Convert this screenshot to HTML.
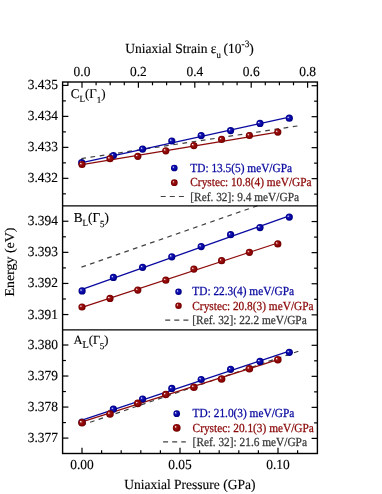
<!DOCTYPE html>
<html><head><meta charset="utf-8"><title>Chart</title>
<style>html,body{margin:0;padding:0;background:#fff;}body{width:382px;height:494px;overflow:hidden;position:relative;font-family:"Liberation Serif",serif;}</style>
</head><body>
<svg width="382" height="494" viewBox="0 0 382 494" style="position:absolute;left:0;top:0">
<defs>
<radialGradient id="gb" cx="0.5" cy="0.5" r="0.5" fx="0.31" fy="0.35">
<stop offset="0" stop-color="#ffffff"/><stop offset="0.1" stop-color="#c0c0f8"/><stop offset="0.3" stop-color="#1c1cb0"/><stop offset="0.75" stop-color="#0000a0"/><stop offset="1" stop-color="#00007a"/>
</radialGradient>
<radialGradient id="gr" cx="0.5" cy="0.5" r="0.5" fx="0.31" fy="0.35">
<stop offset="0" stop-color="#ffffff"/><stop offset="0.1" stop-color="#f0c0c0"/><stop offset="0.3" stop-color="#9a1818"/><stop offset="0.75" stop-color="#8a0000"/><stop offset="1" stop-color="#6a0000"/>
</radialGradient>
</defs>
<rect x="0" y="0" width="382" height="494" fill="#fff"/>
<line x1="81.3" y1="158.6" x2="298.0" y2="125.9" stroke="#404040" stroke-width="1.2" stroke-dasharray="4.7 4.6"/>
<line x1="82.0" y1="162.6" x2="289.3" y2="117.2" stroke="#0a0aa0" stroke-width="1.3"/>
<line x1="82.0" y1="164.7" x2="277.8" y2="132.2" stroke="#8c0a0a" stroke-width="1.3"/>
<circle cx="81.7" cy="162.7" r="3.6" fill="url(#gb)"/>
<circle cx="113.4" cy="155.5" r="3.6" fill="url(#gb)"/>
<circle cx="142.6" cy="149.1" r="3.6" fill="url(#gb)"/>
<circle cx="171.8" cy="141.0" r="3.6" fill="url(#gb)"/>
<circle cx="201.2" cy="135.6" r="3.6" fill="url(#gb)"/>
<circle cx="230.6" cy="130.6" r="3.6" fill="url(#gb)"/>
<circle cx="260.0" cy="123.4" r="3.6" fill="url(#gb)"/>
<circle cx="289.3" cy="118.2" r="3.6" fill="url(#gb)"/>
<circle cx="82.0" cy="164.5" r="3.6" fill="url(#gr)"/>
<circle cx="110.0" cy="158.7" r="3.6" fill="url(#gr)"/>
<circle cx="137.8" cy="156.3" r="3.6" fill="url(#gr)"/>
<circle cx="165.8" cy="150.8" r="3.6" fill="url(#gr)"/>
<circle cx="193.9" cy="145.6" r="3.6" fill="url(#gr)"/>
<circle cx="221.6" cy="139.4" r="3.6" fill="url(#gr)"/>
<circle cx="249.4" cy="135.5" r="3.6" fill="url(#gr)"/>
<circle cx="277.8" cy="132.1" r="3.6" fill="url(#gr)"/>
<line x1="81.45" y1="267.15" x2="258.4" y2="205.4" stroke="#404040" stroke-width="1.2" stroke-dasharray="4.7 4.39"/>
<line x1="82.0" y1="289.3" x2="289.3" y2="215.9" stroke="#0a0aa0" stroke-width="1.3"/>
<line x1="82.0" y1="307.4" x2="277.8" y2="243.0" stroke="#8c0a0a" stroke-width="1.3"/>
<circle cx="82.1" cy="290.9" r="3.6" fill="url(#gb)"/>
<circle cx="113.4" cy="277.4" r="3.6" fill="url(#gb)"/>
<circle cx="142.6" cy="267.3" r="3.6" fill="url(#gb)"/>
<circle cx="171.8" cy="256.8" r="3.6" fill="url(#gb)"/>
<circle cx="201.2" cy="246.6" r="3.6" fill="url(#gb)"/>
<circle cx="230.6" cy="234.7" r="3.6" fill="url(#gb)"/>
<circle cx="260.0" cy="227.6" r="3.6" fill="url(#gb)"/>
<circle cx="289.3" cy="217.1" r="3.6" fill="url(#gb)"/>
<circle cx="82.0" cy="307.0" r="3.6" fill="url(#gr)"/>
<circle cx="110.0" cy="298.4" r="3.6" fill="url(#gr)"/>
<circle cx="137.8" cy="290.1" r="3.6" fill="url(#gr)"/>
<circle cx="165.8" cy="280.2" r="3.6" fill="url(#gr)"/>
<circle cx="193.9" cy="269.1" r="3.6" fill="url(#gr)"/>
<circle cx="221.6" cy="260.7" r="3.6" fill="url(#gr)"/>
<circle cx="249.4" cy="252.3" r="3.6" fill="url(#gr)"/>
<circle cx="277.8" cy="243.9" r="3.6" fill="url(#gr)"/>
<line x1="81.6" y1="425.2" x2="298.4" y2="351.2" stroke="#404040" stroke-width="1.2" stroke-dasharray="4.7 4.275"/>
<line x1="82.0" y1="420.1" x2="289.3" y2="351.2" stroke="#0a0aa0" stroke-width="1.3"/>
<line x1="82.0" y1="421.9" x2="277.8" y2="359.6" stroke="#8c0a0a" stroke-width="1.3"/>
<circle cx="82.0" cy="422.2" r="3.6" fill="url(#gb)"/>
<circle cx="113.4" cy="409.2" r="3.6" fill="url(#gb)"/>
<circle cx="142.6" cy="399.0" r="3.6" fill="url(#gb)"/>
<circle cx="171.8" cy="388.4" r="3.6" fill="url(#gb)"/>
<circle cx="201.2" cy="379.5" r="3.6" fill="url(#gb)"/>
<circle cx="230.6" cy="369.3" r="3.6" fill="url(#gb)"/>
<circle cx="260.0" cy="361.4" r="3.6" fill="url(#gb)"/>
<circle cx="289.3" cy="352.3" r="3.6" fill="url(#gb)"/>
<circle cx="82.0" cy="422.7" r="3.8" fill="url(#gr)"/>
<circle cx="110.0" cy="414.0" r="3.8" fill="url(#gr)"/>
<circle cx="137.8" cy="403.4" r="3.8" fill="url(#gr)"/>
<circle cx="165.8" cy="394.5" r="3.8" fill="url(#gr)"/>
<circle cx="193.9" cy="387.2" r="3.8" fill="url(#gr)"/>
<circle cx="221.6" cy="379.0" r="3.8" fill="url(#gr)"/>
<circle cx="249.4" cy="368.8" r="3.8" fill="url(#gr)"/>
<circle cx="277.8" cy="359.7" r="3.8" fill="url(#gr)"/>
<g stroke="#000" stroke-width="1.2" fill="none" stroke-linecap="butt">
<rect x="62.6" y="82.0" width="254.79999999999998" height="371.5" stroke-width="1.4"/>
<line x1="62.6" y1="205.9" x2="317.4" y2="205.9" stroke-width="1.4"/>
<line x1="62.6" y1="329.9" x2="317.4" y2="329.9" stroke-width="1.4"/>
<line x1="82.00" y1="453.5" x2="82.00" y2="447.7"/>
<line x1="101.60" y1="453.5" x2="101.60" y2="450.2"/>
<line x1="121.20" y1="453.5" x2="121.20" y2="450.2"/>
<line x1="140.80" y1="453.5" x2="140.80" y2="450.2"/>
<line x1="160.40" y1="453.5" x2="160.40" y2="450.2"/>
<line x1="180.00" y1="453.5" x2="180.00" y2="447.7"/>
<line x1="199.60" y1="453.5" x2="199.60" y2="450.2"/>
<line x1="219.20" y1="453.5" x2="219.20" y2="450.2"/>
<line x1="238.80" y1="453.5" x2="238.80" y2="450.2"/>
<line x1="258.40" y1="453.5" x2="258.40" y2="450.2"/>
<line x1="278.00" y1="453.5" x2="278.00" y2="447.7"/>
<line x1="297.60" y1="453.5" x2="297.60" y2="450.2"/>
<line x1="67.90" y1="82.0" x2="67.90" y2="85.3"/>
<line x1="82.00" y1="82.0" x2="82.00" y2="87.8"/>
<line x1="96.10" y1="82.0" x2="96.10" y2="85.3"/>
<line x1="110.20" y1="82.0" x2="110.20" y2="85.3"/>
<line x1="124.30" y1="82.0" x2="124.30" y2="85.3"/>
<line x1="138.40" y1="82.0" x2="138.40" y2="87.8"/>
<line x1="152.50" y1="82.0" x2="152.50" y2="85.3"/>
<line x1="166.60" y1="82.0" x2="166.60" y2="85.3"/>
<line x1="180.70" y1="82.0" x2="180.70" y2="85.3"/>
<line x1="194.80" y1="82.0" x2="194.80" y2="87.8"/>
<line x1="208.90" y1="82.0" x2="208.90" y2="85.3"/>
<line x1="223.00" y1="82.0" x2="223.00" y2="85.3"/>
<line x1="237.10" y1="82.0" x2="237.10" y2="85.3"/>
<line x1="251.20" y1="82.0" x2="251.20" y2="87.8"/>
<line x1="265.30" y1="82.0" x2="265.30" y2="85.3"/>
<line x1="279.40" y1="82.0" x2="279.40" y2="85.3"/>
<line x1="293.50" y1="82.0" x2="293.50" y2="85.3"/>
<line x1="307.60" y1="82.0" x2="307.60" y2="87.8"/>
<line x1="62.6" y1="85.40" x2="68.4" y2="85.40"/>
<line x1="317.4" y1="85.70" x2="311.59999999999997" y2="85.70"/>
<line x1="62.6" y1="100.89" x2="65.9" y2="100.89"/>
<line x1="317.4" y1="101.19" x2="314.09999999999997" y2="101.19"/>
<line x1="62.6" y1="116.38" x2="68.4" y2="116.38"/>
<line x1="317.4" y1="116.68" x2="311.59999999999997" y2="116.68"/>
<line x1="62.6" y1="131.87" x2="65.9" y2="131.87"/>
<line x1="317.4" y1="132.17" x2="314.09999999999997" y2="132.17"/>
<line x1="62.6" y1="147.36" x2="68.4" y2="147.36"/>
<line x1="317.4" y1="147.66" x2="311.59999999999997" y2="147.66"/>
<line x1="62.6" y1="162.85" x2="65.9" y2="162.85"/>
<line x1="317.4" y1="163.15" x2="314.09999999999997" y2="163.15"/>
<line x1="62.6" y1="178.34" x2="68.4" y2="178.34"/>
<line x1="317.4" y1="178.64" x2="311.59999999999997" y2="178.64"/>
<line x1="62.6" y1="193.83" x2="65.9" y2="193.83"/>
<line x1="317.4" y1="194.13" x2="314.09999999999997" y2="194.13"/>
<line x1="62.6" y1="221.25" x2="68.4" y2="221.25"/>
<line x1="317.4" y1="221.55" x2="311.59999999999997" y2="221.55"/>
<line x1="62.6" y1="236.80" x2="65.9" y2="236.80"/>
<line x1="317.4" y1="237.10" x2="314.09999999999997" y2="237.10"/>
<line x1="62.6" y1="252.35" x2="68.4" y2="252.35"/>
<line x1="317.4" y1="252.65" x2="311.59999999999997" y2="252.65"/>
<line x1="62.6" y1="267.90" x2="65.9" y2="267.90"/>
<line x1="317.4" y1="268.20" x2="314.09999999999997" y2="268.20"/>
<line x1="62.6" y1="283.45" x2="68.4" y2="283.45"/>
<line x1="317.4" y1="283.75" x2="311.59999999999997" y2="283.75"/>
<line x1="62.6" y1="299.00" x2="65.9" y2="299.00"/>
<line x1="317.4" y1="299.30" x2="314.09999999999997" y2="299.30"/>
<line x1="62.6" y1="314.55" x2="68.4" y2="314.55"/>
<line x1="317.4" y1="314.85" x2="311.59999999999997" y2="314.85"/>
<line x1="62.6" y1="345.00" x2="68.4" y2="345.00"/>
<line x1="317.4" y1="345.30" x2="311.59999999999997" y2="345.30"/>
<line x1="62.6" y1="360.51" x2="65.9" y2="360.51"/>
<line x1="317.4" y1="360.81" x2="314.09999999999997" y2="360.81"/>
<line x1="62.6" y1="376.03" x2="68.4" y2="376.03"/>
<line x1="317.4" y1="376.33" x2="311.59999999999997" y2="376.33"/>
<line x1="62.6" y1="391.55" x2="65.9" y2="391.55"/>
<line x1="317.4" y1="391.85" x2="314.09999999999997" y2="391.85"/>
<line x1="62.6" y1="407.06" x2="68.4" y2="407.06"/>
<line x1="317.4" y1="407.36" x2="311.59999999999997" y2="407.36"/>
<line x1="62.6" y1="422.57" x2="65.9" y2="422.57"/>
<line x1="317.4" y1="422.88" x2="314.09999999999997" y2="422.88"/>
<line x1="62.6" y1="438.09" x2="68.4" y2="438.09"/>
<line x1="317.4" y1="438.39" x2="311.59999999999997" y2="438.39"/>
</g>
<g opacity="0.999" style="font-family:&apos;Liberation Serif&apos;,serif;text-rendering:geometricPrecision" font-size="13.45" fill="#000" stroke="#000" stroke-width="0.15">
<text transform="translate(58.00,89.40) scale(1,1.03)" text-anchor="end">3.435</text>
<text transform="translate(58.00,120.38) scale(1,1.03)" text-anchor="end">3.434</text>
<text transform="translate(58.00,151.36) scale(1,1.03)" text-anchor="end">3.433</text>
<text transform="translate(58.00,182.34) scale(1,1.03)" text-anchor="end">3.432</text>
<text transform="translate(58.00,225.25) scale(1,1.03)" text-anchor="end">3.394</text>
<text transform="translate(58.00,256.35) scale(1,1.03)" text-anchor="end">3.393</text>
<text transform="translate(58.00,287.45) scale(1,1.03)" text-anchor="end">3.392</text>
<text transform="translate(58.00,318.55) scale(1,1.03)" text-anchor="end">3.391</text>
<text transform="translate(58.00,349.00) scale(1,1.03)" text-anchor="end">3.380</text>
<text transform="translate(58.00,380.03) scale(1,1.03)" text-anchor="end">3.379</text>
<text transform="translate(58.00,411.06) scale(1,1.03)" text-anchor="end">3.378</text>
<text transform="translate(58.00,442.09) scale(1,1.03)" text-anchor="end">3.377</text>
<text transform="translate(82.00,468.90) scale(1,1.03)" text-anchor="middle">0.00</text>
<text transform="translate(180.00,468.90) scale(1,1.03)" text-anchor="middle">0.05</text>
<text transform="translate(278.00,468.90) scale(1,1.03)" text-anchor="middle">0.10</text>
<text transform="translate(82.00,75.60) scale(1,1.03)" text-anchor="middle">0.0</text>
<text transform="translate(138.40,75.60) scale(1,1.03)" text-anchor="middle">0.2</text>
<text transform="translate(194.80,75.60) scale(1,1.03)" text-anchor="middle">0.4</text>
<text transform="translate(251.20,75.60) scale(1,1.03)" text-anchor="middle">0.6</text>
<text transform="translate(307.60,75.60) scale(1,1.03)" text-anchor="middle">0.8</text>
<text transform="translate(189.80,489.20) scale(1,1.03)" text-anchor="middle" font-size="13.5">Uniaxial Pressure (GPa)</text>
<text transform="translate(125.30,53.20) scale(1,1.03)" font-size="13.5">Uniaxial Strain ε<tspan font-size="8.8" dy="4.6">u</tspan><tspan dy="-4.6" dx="-0.7" font-size="13.5"> (10</tspan><tspan font-size="9.4" dy="-5.6">-3</tspan><tspan dy="5.6" font-size="13.5">)</tspan></text>
<text transform="translate(14.0,262) scale(1,1.03) rotate(-90)" text-anchor="middle" font-size="13.5">Energy (eV)</text>
<text transform="translate(70.80,98.20) scale(1,1.03)" font-size="13.0">C<tspan font-size="9" dy="4.0">L</tspan><tspan dy="-4.0" font-size="13.0">(Γ</tspan><tspan font-size="9" dy="4.9" dx="0">1</tspan><tspan dy="-4.9" font-size="13.0">)</tspan></text>
<text transform="translate(73.70,221.80) scale(1,1.03)" font-size="13.2">B<tspan font-size="9" dy="4.0">L</tspan><tspan dy="-4.0" font-size="13.2">(Γ</tspan><tspan font-size="9" dy="4.9" dx="0">5</tspan><tspan dy="-4.9" font-size="13.2">)</tspan></text>
<text transform="translate(73.50,343.70) scale(1,0.99)" font-size="12.5">A<tspan font-size="10.3" dy="4.8">L</tspan><tspan dy="-4.8" font-size="12.5">(Γ</tspan><tspan font-size="9.2" dy="5.3" dx="-0.5">5</tspan><tspan dy="-5.3" font-size="12.5">)</tspan></text>
</g>
<g opacity="0.999" style="font-family:&apos;Liberation Serif&apos;,serif;text-rendering:geometricPrecision" font-size="11.35">
<circle cx="174.3" cy="168.0" r="3.35" fill="url(#gb)"/>
<circle cx="174.3" cy="182.7" r="3.4" fill="url(#gr)"/>
<line x1="160.7" y1="196.5" x2="184.1" y2="196.5" stroke="#404040" stroke-width="1.2" stroke-dasharray="5 4.1"/>
<text transform="translate(190.30,172.00) scale(1,1.09)" fill="#0a0aa0" stroke="#0a0aa0" stroke-width="0.25">TD: 13.5(5) meV/GPa</text>
<text transform="translate(190.30,186.40) scale(1,1.09)" fill="#8c0a0a" stroke="#8c0a0a" stroke-width="0.25">Crystec: 10.8(4) meV/GPa</text>
<text transform="translate(190.30,200.50) scale(1,1.09)" fill="#3a3a3a" stroke="#3a3a3a" stroke-width="0.25">[Ref. 32]: 9.4 meV/GPa</text>
<circle cx="178.5" cy="291.8" r="3.25" fill="url(#gb)"/>
<circle cx="178.5" cy="305.8" r="3.25" fill="url(#gr)"/>
<line x1="165.2" y1="320.2" x2="188.4" y2="320.2" stroke="#404040" stroke-width="1.2" stroke-dasharray="5 4.1"/>
<text transform="translate(192.30,295.30) scale(1,1.09)" fill="#0a0aa0" stroke="#0a0aa0" stroke-width="0.25">TD: 22.3(4) meV/GPa</text>
<text transform="translate(192.30,309.90) scale(1,1.09)" fill="#8c0a0a" stroke="#8c0a0a" stroke-width="0.25">Crystec: 20.8(3) meV/GPa</text>
<text transform="translate(192.30,324.10) scale(1,1.09)" fill="#3a3a3a" stroke="#3a3a3a" stroke-width="0.25">[Ref. 32]: 22.2 meV/GPa</text>
<circle cx="176.7" cy="413.7" r="3.35" fill="url(#gb)"/>
<circle cx="176.7" cy="427.8" r="3.9" fill="url(#gr)"/>
<line x1="163.1" y1="441.9" x2="185.8" y2="441.9" stroke="#404040" stroke-width="1.2" stroke-dasharray="5 4.1"/>
<text transform="translate(192.60,417.30) scale(1,1.09)" fill="#0a0aa0" stroke="#0a0aa0" stroke-width="0.25">TD: 21.0(3) meV/GPa</text>
<text transform="translate(192.60,431.50) scale(1,1.09)" fill="#8c0a0a" stroke="#8c0a0a" stroke-width="0.25">Crystec: 20.1(3) meV/GPa</text>
<text transform="translate(192.60,445.90) scale(1,1.09)" fill="#3a3a3a" stroke="#3a3a3a" stroke-width="0.25">[Ref. 32]: 21.6 meV/GPa</text>
</g>
</svg>
</body></html>
